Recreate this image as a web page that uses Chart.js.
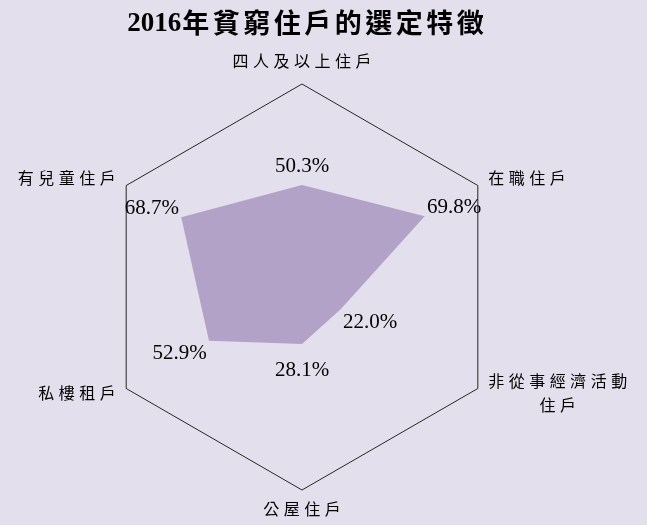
<!DOCTYPE html>
<html>
<head>
<meta charset="utf-8">
<script src="https://cdn.jsdelivr.net/npm/chart.js@4"></script>
<style>
  html, body { margin: 0; padding: 0; background: #E4DFEC; }
  #wrap { width: 647px; height: 525px; }
</style>
</head>
<body>
<div id="wrap"><canvas id="graficoRadar" width="647" height="525"></canvas></div>
<script>
const titulo = "2016年貧窮住戶的選定特徵";
const categorias = [
  ["四人及以上住戶"],
  ["在職住戶"],
  ["非從事經濟活動", "住戶"],
  ["公屋住戶"],
  ["私樓租戶"],
  ["有兒童住戶"]
];
const valores = [50.3, 69.8, 22.0, 28.1, 52.9, 68.7];

// title, category names and % labels are drawn by hand (letter spacing)
const etiquetas = {
  id: "etiquetas",
  afterDatasetsDraw(chart) {
    const ctx = chart.ctx;
    const r = chart.scales.r;
    const cx = r.xCenter, cy = r.yCenter;
    ctx.save();
    ctx.fillStyle = "#000";

    // values next to each point
    ctx.font = '21px "Liberation Serif"';
    ctx.textAlign = "center";
    ctx.textBaseline = "middle";
    chart.getDatasetMeta(0).data.forEach((p, i) => {
      const a = Math.atan2(p.y - cy, p.x - cx);
      const ry = Math.sin(a) > 0 ? 26 : 18;
      ctx.fillText(valores[i].toFixed(1) + "%", p.x + Math.cos(a) * 34, p.y + Math.sin(a) * ry);
    });

    // category names outside the hexagon
    const esp = 4.5;
    ctx.font = '16px "Noto Sans CJK TC"';
    ctx.letterSpacing = esp + "px";
    ctx.textAlign = "left";
    categorias.forEach((lineas, i) => {
      const p = r.getPointPosition(i, r.drawingArea + (i % 3 === 0 ? 21 : 12));
      const dx = p.x - cx;
      const anchos = lineas.map(t => ctx.measureText(t).width - esp);
      const ancho = Math.max(...anchos);
      let izq;
      if (Math.abs(dx) < 1) izq = p.x - ancho / 2;
      else if (dx > 0) izq = p.x;
      else izq = p.x - ancho;
      lineas.forEach((t, k) => {
        const y = p.y - 2 + (k - (lineas.length - 1) / 2) * 24;
        ctx.fillText(t, izq + (ancho - anchos[k]) / 2, y);
      });
    });

    // title
    const num = titulo.slice(0, 4), resto = titulo.slice(4);
    ctx.font = 'bold 27px "Liberation Serif"';
    ctx.letterSpacing = "0px";
    const w1 = ctx.measureText(num).width;
    ctx.font = 'bold 27px "Noto Sans CJK TC"';
    ctx.letterSpacing = "3.5px";
    const w2 = ctx.measureText(resto).width - 3.5;
    const x0 = cx + 3 - (w1 + w2) / 2;
    ctx.fillText(resto, x0 + w1 + 1, 23);
    ctx.font = 'bold 27px "Liberation Serif"';
    ctx.letterSpacing = "0px";
    ctx.fillText(num, x0, 24);
    ctx.restore();
  }
};

document.addEventListener("DOMContentLoaded", function () {
  const ctx = document.getElementById("graficoRadar");
  new Chart(ctx, {
    type: "radar",
    data: {
      labels: categorias,
      datasets: [{
        data: valores,
        backgroundColor: "#B3A2C7",
        borderWidth: 0,
        pointRadius: 0,
        fill: true
      }]
    },
    options: {
      responsive: false,
      animation: false,
      layout: { padding: { top: 84, bottom: 35, left: 99, right: 141 } },
      plugins: {
        legend: { display: false },
        tooltip: { enabled: false }
      },
      scales: {
        r: {
          min: 0,
          max: 100,
          ticks: { display: false, stepSize: 100 },
          grid: { color: "#262626", lineWidth: 1 },
          angleLines: { display: false },
          pointLabels: { display: false }
        }
      }
    },
    plugins: [etiquetas]
  });
});
</script>
</body>
</html>
